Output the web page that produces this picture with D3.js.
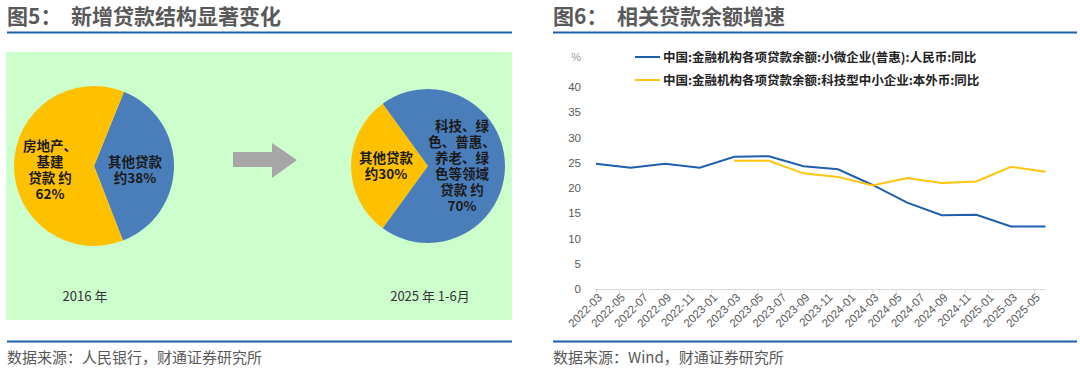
<!DOCTYPE html>
<html>
<head>
<meta charset="utf-8">
<script src="https://cdn.jsdelivr.net/npm/d3@7"></script>
<style>
  html, body { margin: 0; padding: 0; background: #fff; }
  svg { display: block; font-family: "Noto Sans CJK SC", "Noto Sans", sans-serif; }
</style>
</head>
<body>
<svg id="chart" width="1080" height="373"></svg>
<script>
// Figure 5: loan structure pies
var pie2016 = [
  {name: "其他贷款", value: 38, color: "#4a7ebb"},
  {name: "房地产、基建贷款", value: 62, color: "#ffc000"}
];
var pie2025 = [
  {name: "其他贷款", value: 30, color: "#ffc000"},
  {name: "科技、绿色、普惠、养老等领域贷款", value: 70, color: "#4a7ebb"}
];
var pieYears = ["2016 年", "2025 年 1-6月"];

// Figure 6: quarterly growth rates (%)
var quarters = ["2022-03","2022-06","2022-09","2022-12","2023-03","2023-06","2023-09","2023-12",
                "2024-03","2024-06","2024-09","2024-12","2025-03","2025-06"];
var smallMicro = [24.8, 24.0, 24.8, 24.0, 26.2, 26.3, 24.3, 23.7, 20.6, 17.1, 14.6, 14.7, 12.4, 12.4];
var techSme    = [null, null, null, null, 25.4, 25.4, 22.9, 22.2, 20.5, 22.0, 21.0, 21.3, 24.2, 23.2];
var legendNames = [
  "中国:金融机构各项贷款余额:小微企业(普惠):人民币:同比",
  "中国:金融机构各项贷款余额:科技型中小企业:本外币:同比"
];
var yTicks = [0, 5, 10, 15, 20, 25, 30, 35, 40];

var svg = d3.select("#chart");
var ruleColor = "#1f5fa8", greyText = "#595959";

// month list for the category axis, 2022-03 .. 2025-06
var months = [];
for (var y = 2022; y <= 2025; y++) {
  for (var m = 1; m <= 12; m++) {
    var k = y + "-" + (m < 10 ? "0" + m : m);
    if (k >= "2022-03" && k <= "2025-06") months.push(k);
  }
}

// headers and footers
function frame(x0, x1, title, source) {
  svg.append("text").attr("x", x0).attr("y", 24)
    .attr("font-size", 21).attr("font-weight", "bold").attr("fill", greyText)
    .attr("xml:space", "preserve").text(title);
  svg.append("line").attr("x1", x0).attr("x2", x1).attr("y1", 32.5).attr("y2", 32.5)
    .attr("stroke", ruleColor).attr("stroke-width", 2);
  svg.append("line").attr("x1", x0).attr("x2", x1).attr("y1", 341.5).attr("y2", 341.5)
    .attr("stroke", ruleColor).attr("stroke-width", 2);
  svg.append("text").attr("x", x0).attr("y", 363)
    .attr("font-size", 15).attr("fill", greyText).text(source);
}
frame(7, 512, "图5：  新增贷款结构显著变化", "数据来源：人民银行，财通证券研究所");
frame(553, 1077, "图6：  相关贷款余额增速", "数据来源：Wind，财通证券研究所");

// ---- left panel ----
var left = svg.append("g");
left.append("rect").attr("x", 6).attr("y", 52).attr("width", 506).attr("height", 268)
  .attr("fill", "#ccffcc");

var arc = d3.arc().innerRadius(0);

function drawPie(data, cx, cy, r, start) {
  var slices = d3.pie().sort(null).value(d => d.value)
    .startAngle(start).endAngle(start + 2 * Math.PI)(data);
  var g = left.append("g").attr("transform", "translate(" + cx + "," + cy + ")");
  g.selectAll("path").data(slices).join("path")
    .attr("d", arc.outerRadius(r))
    .attr("fill", d => d.data.color);
}
drawPie(pie2016, 94, 166, 80, 22 / 180 * Math.PI);
drawPie(pie2025, 428, 166, 77, (270 - pie2025[0].value * 1.8) / 180 * Math.PI);

function label(lines, cx, y0, step) {
  var t = left.append("text").attr("text-anchor", "middle")
    .attr("font-size", 13.5).attr("font-weight", "bold").attr("fill", "#1a1a1a");
  lines.forEach(function(s, i) {
    t.append("tspan").attr("x", cx).attr("y", y0 + i * step).text(s);
  });
}
label(["房地产、", "基建", "贷款 约", pie2016[1].value + "%"], 50, 151, 16);
label(["其他贷款", "约" + pie2016[0].value + "%"], 135, 167, 16);
label(["其他贷款", "约" + pie2025[0].value + "%"], 386, 163, 16);
label(["科技、绿", "色、普惠、", "养老、绿", "色等领域", "贷款 约", pie2025[1].value + "%"], 462, 131, 16);

left.selectAll("text.year").data(pieYears).join("text")
  .attr("class", "year").attr("text-anchor", "middle")
  .attr("x", (d, i) => i ? 430 : 85).attr("y", 301)
  .attr("font-size", 13).attr("fill", "#333").text(d => d);

// arrow
left.append("path")
  .attr("d", "M233,152 H272 V143 L297,160 L272,178 V167 H233 Z")
  .attr("fill", "#a6a6a6");

// ---- right panel: line chart ----
var x = d3.scalePoint().domain(months).range([596, 1045.5]);
var yS = d3.scaleLinear().domain([0, 40]).range([289, 87]);

var right = svg.append("g");

right.append("g").selectAll("text").data(yTicks).join("text")
  .attr("x", 581).attr("y", d => yS(d) + 4).attr("text-anchor", "end")
  .attr("font-family", "Liberation Sans, Arial, sans-serif")
  .attr("font-size", 11.5).attr("fill", greyText).text(d => d);
right.append("text").attr("x", 581).attr("y", 61).attr("text-anchor", "end")
  .attr("font-family", "Liberation Sans, Arial, sans-serif")
  .attr("font-size", 11).attr("fill", "#999").text("%");

var xAxis = d3.axisBottom(x)
  .tickValues(months.filter((d, i) => i % 2 === 0 && i < 39))
  .tickSize(4).tickSizeOuter(0);
var gx = right.append("g").attr("transform", "translate(0,289)").call(xAxis);
gx.select(".domain").attr("stroke", "#d9d9d9").attr("d", "M595,0.5H1045.5");
gx.selectAll(".tick line").attr("stroke", "#d9d9d9");
gx.selectAll(".tick text")
  .attr("font-family", "Liberation Sans, Arial, sans-serif")
  .attr("font-size", 11.5).attr("fill", greyText)
  .attr("text-anchor", "end")
  .attr("transform", "translate(2,2) rotate(-45)")
  .attr("dy", "0.35em").attr("y", 4).attr("x", -2);

var line = d3.line()
  .defined(d => d.v != null)
  .x(d => x(d.q)).y(d => yS(d.v));

var series = [
  {name: legendNames[0], color: "#1f5fad", values: smallMicro},
  {name: legendNames[1], color: "#ffc40c", values: techSme}
];

right.selectAll("path.series").data(series).join("path")
  .attr("class", "series")
  .attr("fill", "none").attr("stroke", d => d.color).attr("stroke-width", 2)
  .attr("d", d => line(d.values.map((v, i) => ({q: quarters[i], v: v}))));

// legend
var lg = right.selectAll("g.legend").data(series).join("g")
  .attr("class", "legend")
  .attr("transform", (d, i) => "translate(635," + (57 + i * 23) + ")");
lg.append("line").attr("x1", 0).attr("x2", 25).attr("stroke", d => d.color).attr("stroke-width", 2);
lg.append("text").attr("x", 28).attr("y", 4.5).attr("font-size", 12.5)
  .attr("font-weight", "bold").attr("fill", "#222").text(d => d.name);
</script>
</body>
</html>
